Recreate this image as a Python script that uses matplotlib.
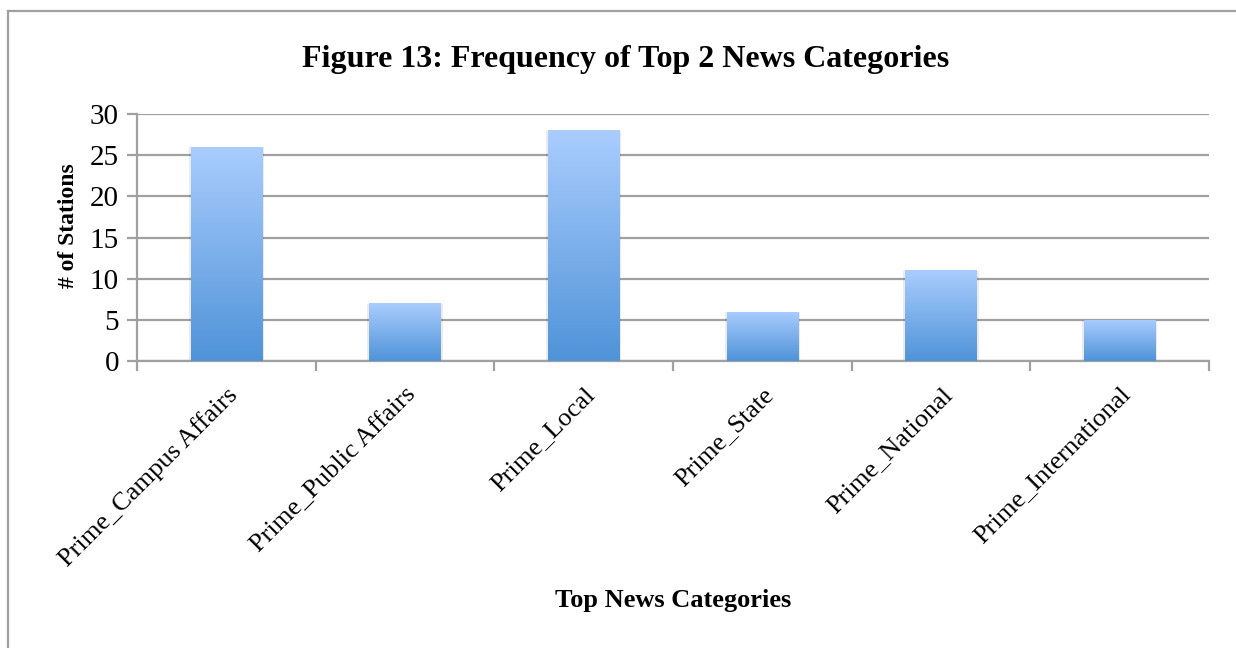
import numpy as np
import matplotlib
matplotlib.use("Agg")
import matplotlib.pyplot as plt
from matplotlib.colors import LinearSegmentedColormap
from matplotlib.lines import Line2D

categories = ["Prime_Campus Affairs", "Prime_Public Affairs", "Prime_Local",
              "Prime_State", "Prime_National", "Prime_International"]
stations = [26, 7, 28, 6, 11, 5]
y_ticks = [0, 5, 10, 15, 20, 25, 30]

plt.rcParams['font.family'] = ['Liberation Serif', 'DejaVu Serif']

fig = plt.figure(figsize=(12.36, 6.48), dpi=100)
ax = fig.add_axes([137/1236, 1 - 361/648, (1209 - 137)/1236, (361 - 114)/648])

grey = '#a0a0a0'
cmap = LinearSegmentedColormap.from_list('bar', ['#4f93d8', '#aacdfe'])
grad = np.linspace(0, 1, 256).reshape(-1, 1)

x = np.arange(len(categories))
w = 0.40
bars = ax.bar(x, stations, width=w, color='none', zorder=3)
for b in bars:
    x0, h = b.get_x(), b.get_height()
    # faint shadow
    ax.add_patch(plt.Rectangle((x0 - 0.01, -0.15), w + 0.02, h + 0.1,
                               color='#000000', alpha=0.08, lw=0, zorder=2))
    im = ax.imshow(grad, extent=[x0, x0 + w, 0, h], origin='lower',
                   aspect='auto', cmap=cmap, zorder=3)
    im.set_clip_path(b)

ax.set_xlim(-0.5, len(categories) - 0.5)
ax.set_ylim(0, 30)
ax.set_yticks(y_ticks)
ax.yaxis.grid(True, color=grey, lw=1.6, zorder=0)
ax.set_axisbelow(True)

ax.set_xticks(x)
ax.set_xticklabels(categories, rotation=45, ha='right', rotation_mode='anchor',
                   fontsize=19)
ax.tick_params(axis='x', which='major', length=0, pad=16)
ax.set_xticks(np.arange(-0.5, len(categories)), minor=True)
ax.tick_params(axis='x', which='minor', length=7, width=1.6, color=grey)
ax.tick_params(axis='y', length=7, width=1.6, color=grey, labelsize=21, pad=6)

for s in ['top', 'right']:
    ax.spines[s].set_visible(False)
for s in ['left', 'bottom']:
    ax.spines[s].set_color(grey)
    ax.spines[s].set_linewidth(1.6)

ax.set_ylabel('# of Stations', fontsize=17, fontweight='bold')
ax.yaxis.set_label_coords(-0.054, 0.547)
fig.text(673/1236, 1 - 600/648, 'Top News Categories', fontsize=19,
         fontweight='bold', ha='center', va='center')
fig.text(626/1236, 1 - 60/648, 'Figure 13: Frequency of Top 2 News Categories',
         fontsize=23, fontweight='bold', ha='center', va='center')

# outer chart border (top and left visible)
fig.add_artist(Line2D([8/1236, 1], [1 - 11/648, 1 - 11/648], color=grey, lw=1.6))
fig.add_artist(Line2D([8/1236, 8/1236], [0, 1 - 11/648], color=grey, lw=1.6))

fig.savefig('out.png', dpi=100)
